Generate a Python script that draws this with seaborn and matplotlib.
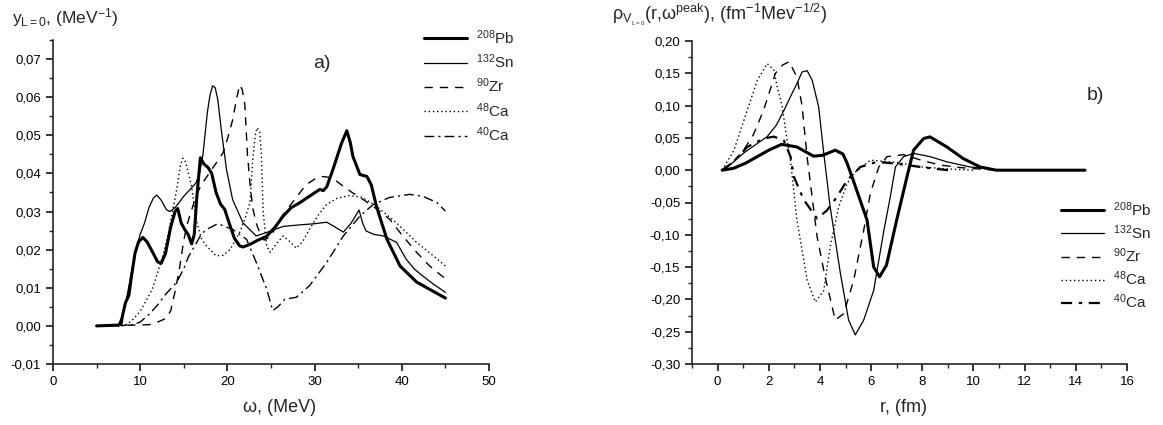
import matplotlib
matplotlib.use('Agg')
import matplotlib.pyplot as plt
import seaborn as sns
from matplotlib.ticker import MultipleLocator, FuncFormatter

sns.set_style("ticks")
plt.rcParams['font.family'] = ['Liberation Sans', 'DejaVu Sans']
plt.rcParams['mathtext.fontset'] = 'custom'
plt.rcParams['mathtext.rm'] = 'Liberation Sans'
plt.rcParams['mathtext.it'] = 'Liberation Sans:italic'
plt.rcParams['mathtext.sf'] = 'Liberation Sans'

# etiquetas de los nucleos
nucleos = [r'$^{208}$Pb', r'$^{132}$Sn', r'$^{90}$Zr', r'$^{48}$Ca', r'$^{40}$Ca']

# ---------- panel a): y_L=0 vs omega ----------
pb_w = [5, 7.5, 7.8, 8.0, 8.3, 8.7, 9.0, 9.4, 9.8, 10.3, 10.8, 11.5, 12.0, 12.4, 12.9, 13.5, 14.0, 14.3,
        14.7, 15.1, 15.5, 15.9, 16.2, 16.5, 16.9, 17.3, 17.8, 18.2, 18.7, 19.2, 19.7, 20.2, 20.8, 21.4,
        21.8, 22.6, 23.5, 24.5, 25.5, 26.4, 27.3, 28.3, 29.4, 30.6, 31.0, 31.4, 32.1, 33.1, 33.7, 34.1,
        34.4, 35.2, 36.0, 36.5, 37.1, 38.3, 39.8, 41.7, 43.5, 45]
pb_y = [0, 0.0002, 0.0005, 0.003, 0.006, 0.008, 0.013, 0.019, 0.022, 0.0232, 0.022, 0.019, 0.0168, 0.0164,
        0.019, 0.026, 0.030, 0.0308, 0.027, 0.0253, 0.024, 0.0215, 0.024, 0.034, 0.0441, 0.0425, 0.0415,
        0.040, 0.035, 0.032, 0.0305, 0.027, 0.023, 0.021, 0.0207, 0.0214, 0.0225, 0.0235, 0.026, 0.0288,
        0.031, 0.0323, 0.034, 0.0358, 0.0355, 0.0365, 0.041, 0.048, 0.0512, 0.048, 0.0444, 0.0397, 0.0392,
        0.037, 0.0313, 0.0227, 0.0157, 0.0115, 0.0092, 0.0073]

sn_w = [5, 7.5, 8.0, 8.5, 9.0, 9.5, 10.0, 10.5, 11.0, 11.5, 11.9, 12.4, 13.0, 13.4, 14.0, 15.0, 16.0, 16.4,
        16.8, 17.2, 17.7, 18.0, 18.3, 18.6, 18.9, 19.3, 19.9, 20.6, 21.8, 23.3, 24.5, 26.4, 28.3, 30.0,
        31.4, 32.3, 33.3, 34.2, 35.1, 35.5, 35.9, 36.8, 37.9, 39.4, 40.5, 41.4, 42.4, 43.6, 45]
sn_y = [0, 0.0003, 0.003, 0.008, 0.014, 0.020, 0.024, 0.027, 0.031, 0.0335, 0.0343, 0.033, 0.0305, 0.030,
        0.031, 0.034, 0.0365, 0.0375, 0.040, 0.045, 0.056, 0.0605, 0.063, 0.0625, 0.0593, 0.0514, 0.041,
        0.0331, 0.027, 0.0236, 0.0245, 0.0261, 0.0265, 0.0268, 0.0272, 0.026, 0.0246, 0.027, 0.0304,
        0.027, 0.0249, 0.024, 0.0236, 0.0219, 0.0175, 0.015, 0.0131, 0.011, 0.0088]

zr_w = [5, 11.0, 11.5, 12.0, 12.5, 13.0, 13.5, 14.0, 14.5, 14.9, 15.3, 15.7, 16.4, 17.0, 17.6, 18.5, 19.5,
        20.0, 20.6, 21.0, 21.4, 21.7, 22.0, 22.3, 22.6, 22.9, 23.3, 23.7, 24.2, 25.0, 26.0, 27.0, 28.0,
        29.0, 30.0, 30.8, 31.6, 32.5, 33.3, 34.3, 35.2, 36.7, 38.6, 40.1, 41.7, 43.2, 44.6, 45]
zr_y = [0, 0.0003, 0.0006, 0.001, 0.0015, 0.002, 0.004, 0.009, 0.015, 0.021, 0.026, 0.029, 0.034, 0.037,
        0.039, 0.042, 0.0454, 0.049, 0.054, 0.059, 0.0632, 0.062, 0.058, 0.045, 0.037, 0.031, 0.027,
        0.0245, 0.0225, 0.0235, 0.028, 0.031, 0.034, 0.037, 0.0385, 0.0392, 0.039, 0.038, 0.0366, 0.035,
        0.0337, 0.0314, 0.028, 0.0236, 0.0193, 0.0157, 0.0131, 0.0125]

ca48_w = [5, 8.0, 8.5, 9.0, 10.0, 11.0, 11.4, 12.0, 12.6, 13.2, 13.7, 14.2, 14.6, 14.9, 15.2, 15.9, 16.4,
          17.0, 17.6, 18.7, 19.5, 20.3, 21.4, 22.0, 22.6, 22.9, 23.2, 23.4, 23.7, 23.9, 24.1, 24.5, 24.9,
          25.6, 26.4, 27.2, 27.9, 28.6, 29.4, 30.4, 31.4, 32.6, 34.0, 35.5, 37.1, 39.4, 41.7, 43.6, 45]
ca48_y = [0, 0, 0.0005, 0.0013, 0.0038, 0.008, 0.0097, 0.014, 0.0184, 0.024, 0.0297, 0.036, 0.042, 0.044,
          0.043, 0.0366, 0.028, 0.023, 0.021, 0.0184, 0.0185, 0.020, 0.0245, 0.028, 0.0324, 0.0436, 0.050,
          0.052, 0.051, 0.045, 0.030, 0.021, 0.0193, 0.0215, 0.0236, 0.022, 0.0204, 0.022, 0.0253, 0.029,
          0.0319, 0.0335, 0.0342, 0.0337, 0.0314, 0.027, 0.0219, 0.0184, 0.0157]

ca40_w = [5, 9.0, 10.0, 11.0, 12.0, 13.0, 14.2, 15.0, 15.5, 16.0, 16.5, 17.0, 17.6, 18.9, 20.6, 22.2,
          23.3, 24.5, 25.2, 25.8, 26.6, 27.9, 29.4, 31.4, 33.3, 35.2, 36.7, 38.6, 40.9, 42.4, 44.0, 45]
ca40_y = [0, 0.0002, 0.001, 0.003, 0.0055, 0.0085, 0.0115, 0.015, 0.018, 0.020, 0.022, 0.024, 0.0253,
          0.0268, 0.0253, 0.0227, 0.0167, 0.0097, 0.004, 0.005, 0.007, 0.0075, 0.0105, 0.0167, 0.0236,
          0.0288, 0.0318, 0.0337, 0.0345, 0.034, 0.0324, 0.0301]

# ---------- panel b): densidad de transicion vs r ----------
pb_r = [0.18, 0.63, 1.1, 1.55, 2.0, 2.5, 3.1, 3.75, 4.1, 4.6, 4.9, 5.06, 5.3, 5.84, 6.1, 6.33, 6.6, 7.0,
        7.4, 7.66, 8.05, 8.3, 8.96, 9.6, 10.26, 10.9, 12.0, 13.0, 14.36]
pb_rho = [0, 0.003, 0.011, 0.021, 0.031, 0.040, 0.036, 0.0217, 0.023, 0.031, 0.025, 0.011, -0.0155,
          -0.077, -0.15, -0.165, -0.147, -0.077, -0.0103, 0.031, 0.049, 0.0516, 0.036, 0.018, 0.005,
          0.0, 0.0, 0.0, 0.0]

sn_r = [0.18, 0.6, 1.0, 1.5, 1.94, 2.3, 2.6, 2.9, 3.1, 3.3, 3.5, 3.7, 3.95, 4.15, 4.4, 4.8, 5.12, 5.38,
        5.71, 6.1, 6.5, 6.75, 6.95, 7.27, 7.66, 8.3, 8.96, 9.87, 10.8]
sn_rho = [0, 0.012, 0.026, 0.040, 0.052, 0.070, 0.093, 0.118, 0.134, 0.152, 0.154, 0.139, 0.098, 0.026,
          -0.057, -0.16, -0.232, -0.255, -0.232, -0.186, -0.093, -0.041, 0.005, 0.021, 0.026, 0.021,
          0.013, 0.005, 0.001]

zr_r = [0.18, 0.6, 1.0, 1.4, 1.8, 2.26, 2.55, 2.8, 3.1, 3.3, 3.5, 3.89, 4.2, 4.6, 4.93, 5.32, 5.71, 5.97,
        6.3, 6.62, 7.27, 8.0, 8.7, 9.5, 10.5, 11.0]
zr_rho = [0, 0.013, 0.030, 0.055, 0.093, 0.150, 0.163, 0.168, 0.144, 0.10, 0.02, -0.103, -0.165, -0.232,
          -0.222, -0.17, -0.093, -0.036, 0.005, 0.021, 0.024, 0.015, 0.008, 0.004, 0.001, 0]

ca48_r = [0.18, 0.64, 1.16, 1.55, 1.94, 2.2, 2.33, 2.52, 2.72, 2.85, 3.1, 3.5, 3.82, 4.15, 4.4, 4.73, 5.06,
          5.32, 5.97, 7.0, 8.0, 9.0, 10.0]
ca48_rho = [0, 0.031, 0.093, 0.139, 0.165, 0.155, 0.129, 0.10, 0.045, 0.015, -0.077, -0.17, -0.204,
            -0.186, -0.119, -0.057, -0.021, -0.005, 0.0155, 0.012, 0.005, 0.002, 0]

ca40_r = [0.18, 0.6, 1.16, 1.8, 2.2, 2.59, 2.85, 2.98, 3.37, 3.89, 4.28, 4.67, 5.06, 5.58, 6.23, 7.0,
          7.92, 9.0]
ca40_rho = [0, 0.012, 0.036, 0.049, 0.052, 0.046, 0.021, -0.010, -0.046, -0.075, -0.062, -0.041,
            -0.0155, 0.005, 0.013, 0.010, 0.005, 0.0]

# estilos de linea (grosor, tipo)
estilos_a = [(2.2, '-'), (0.9, '-'), (1.0, (0, (6, 5))), (1.0, (0, (1, 2))), (1.0, (0, (7, 3, 1.5, 3)))]
estilos_b = [(2.2, '-'), (0.9, '-'), (1.0, (0, (6, 5))), (1.0, (0, (1, 2))), (1.6, (0, (5, 3, 1.5, 3)))]

datos_a = [(pb_w, pb_y), (sn_w, sn_y), (zr_w, zr_y), (ca48_w, ca48_y), (ca40_w, ca40_y)]
datos_b = [(pb_r, pb_rho), (sn_r, sn_rho), (zr_r, zr_rho), (ca48_r, ca48_rho), (ca40_r, ca40_rho)]

W, H = 1163, 425
fig = plt.figure(figsize=(W / 100, H / 100), dpi=100)
ax1 = fig.add_axes([53 / W, 1 - 364 / H, 436 / W, 324 / H])
ax2 = fig.add_axes([692 / W, 1 - 364 / H, 435 / W, 323 / H])

for (x, y), (lw, ls), nom in zip(datos_a, estilos_a, nucleos):
    sns.lineplot(x=x, y=y, ax=ax1, color='black', lw=lw, linestyle=ls, label=nom,
                 sort=False, estimator=None)
for (x, y), (lw, ls), nom in zip(datos_b, estilos_b, nucleos):
    sns.lineplot(x=x, y=y, ax=ax2, color='black', lw=lw, linestyle=ls, label=nom,
                 sort=False, estimator=None)

coma = FuncFormatter(lambda v, p: f"{v:.2f}".replace('.', ',').replace('-0,00', '0,00'))
entero = FuncFormatter(lambda v, p: f"{v:.0f}")

ax1.set_xlim(0, 50)
ax1.set_ylim(-0.01, 0.075)
ax1.xaxis.set_major_locator(MultipleLocator(10))
ax1.xaxis.set_minor_locator(MultipleLocator(5))
ax1.yaxis.set_major_locator(MultipleLocator(0.01))
ax1.yaxis.set_minor_locator(MultipleLocator(0.005))

ax2.set_xlim(-1, 16)
ax2.set_ylim(-0.30, 0.20)
ax2.xaxis.set_major_locator(MultipleLocator(2))
ax2.xaxis.set_minor_locator(MultipleLocator(1))
ax2.yaxis.set_major_locator(MultipleLocator(0.05))
ax2.yaxis.set_minor_locator(MultipleLocator(0.025))

for ax in (ax1, ax2):
    sns.despine(ax=ax)
    ax.spines['left'].set_linewidth(1.2)
    ax.spines['bottom'].set_linewidth(1.2)
    ax.yaxis.set_major_formatter(coma)
    ax.xaxis.set_major_formatter(entero)
    ax.tick_params(which='major', direction='out', length=5, width=1.1, labelsize=9.5, colors='black')
    ax.tick_params(which='minor', direction='out', length=3, width=1.0)
    ax.set_xlabel('')
    ax.set_ylabel('')

ax1.legend(loc='upper left', bbox_to_anchor=(424 / W, 1 - 28 / H), bbox_transform=fig.transFigure,
           frameon=False, fontsize=11, handlelength=2.8, handletextpad=0.6, labelspacing=0.38,
           borderpad=0, borderaxespad=0)
ax2.legend(loc='upper left', bbox_to_anchor=(1061 / W, 1 - 200 / H), bbox_transform=fig.transFigure,
           frameon=False, fontsize=11, handlelength=2.8, handletextpad=0.6, labelspacing=0.3,
           borderpad=0, borderaxespad=0)

# titulos de ejes
fig.text(12 / W, 1 - 18 / H, r'y$_{\mathrm{L=0}}$, (MeV$^{\mathrm{-1}}$)', fontsize=12.5, va='center')
fig.text(612 / W, 1 - 15 / H,
         r'ρ$_{\mathrm{V}_{_{\mathrm{L=0}}}}$(r,ω$^{\mathrm{peak}}$), (fm$^{\mathrm{ -1}}$Mev$^{\mathrm{ -1/2}}$)',
         fontsize=13, va='center')
fig.text(280 / W, 1 - 408 / H, 'ω, (MeV)', fontsize=13, ha='center', va='center')
fig.text(903 / W, 1 - 407 / H, 'r, (fm)', fontsize=13, ha='center', va='center')
fig.text(322 / W, 1 - 63 / H, 'a)', fontsize=14, ha='center', va='center')
fig.text(1095 / W, 1 - 95 / H, 'b)', fontsize=14, ha='center', va='center')

fig.savefig('out.png', dpi=100)
